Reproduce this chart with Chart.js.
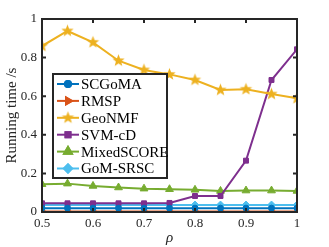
<!DOCTYPE html>
<html><head><meta charset="utf-8">
<script src="https://cdn.jsdelivr.net/npm/chart.js@4/dist/chart.umd.min.js"></script>
<style>html,body{margin:0;padding:0;background:#fff;}#wrap{width:329px;height:247px;}</style>
</head><body><div id="wrap"><canvas id="c" width="329" height="247"></canvas></div>
<script>
const rho = [0.5,0.55,0.6,0.65,0.7,0.75,0.8,0.85,0.9,0.95,1.0];
const SCGoMA = [0.020,0.020,0.020,0.020,0.020,0.020,0.020,0.020,0.020,0.020,0.020];
const RMSP = [0.003,0.003,0.003,0.003,0.003,0.003,0.003,0.003,0.003,0.003,0.003];
const GeoNMF = [0.860,0.938,0.879,0.784,0.736,0.713,0.684,0.632,0.636,0.611,0.589];
const SVMcD = [0.045,0.045,0.045,0.045,0.045,0.047,0.083,0.083,0.266,0.684,0.843];
const MixedSCORE = [0.144,0.147,0.135,0.127,0.121,0.118,0.115,0.109,0.111,0.111,0.109];
const GoMSRSC = [0.036,0.036,0.036,0.036,0.036,0.036,0.036,0.036,0.036,0.036,0.036];
const seriesNames = ['SCGoMA','RMSP','GeoNMF','SVM-cD','MixedSCORE','GoM-SRSC'];
const xTicks = [0.5,0.6,0.7,0.8,0.9,1];
const yTicks = [0,0.2,0.4,0.6,0.8,1];

const colors = ['#0072BD','#D95319','#EDB120','#7E2F8E','#77AC30','#4DBEEE'];

function makeStar(color, r){
  const s = Math.ceil(r*2+2);
  const cv = document.createElement('canvas'); cv.width = s; cv.height = s;
  const g = cv.getContext('2d');
  const cx = s/2, cy = s/2, ri = r*0.42;
  g.beginPath();
  for(let i=0;i<10;i++){
    const a = -Math.PI/2 + i*Math.PI/5;
    const rr = i%2===0 ? r : ri;
    const x = cx + rr*Math.cos(a), y = cy + rr*Math.sin(a);
    if(i===0) g.moveTo(x,y); else g.lineTo(x,y);
  }
  g.closePath(); g.fillStyle = color; g.fill();
  return cv;
}
const starImg = makeStar(colors[2], 6.5);

const styles = [
  {pointStyle:'circle', radius:3, rotation:0},
  {pointStyle:'triangle', radius:4, rotation:90},
  {pointStyle:starImg, radius:6, rotation:0},
  {pointStyle:'rect', radius:3.5, rotation:0},
  {pointStyle:'triangle', radius:4.5, rotation:0},
  {pointStyle:'rectRot', radius:4, rotation:0}
];
const values = [SCGoMA, RMSP, GeoNMF, SVMcD, MixedSCORE, GoMSRSC];

const datasets = values.map((v,i)=>({
  label: seriesNames[i],
  data: rho.map((x,j)=>({x:x,y:v[j]})),
  borderColor: colors[i],
  backgroundColor: colors[i],
  borderWidth: 2,
  pointStyle: styles[i].pointStyle,
  pointRadius: styles[i].radius,
  pointRotation: styles[i].rotation,
  pointBorderWidth: 1,
  pointBackgroundColor: colors[i],
  pointBorderColor: colors[i],
  tension: 0,
  fill: false
}));

const fmt = v => String(Number(Number(v).toFixed(1)));

const AX = '#262626';
const framePlugin = {
  id: 'frame',
  afterDatasetsDraw(chart){
    const ctx = chart.ctx, a = chart.chartArea;
    const xs = chart.scales.x, ys = chart.scales.y;
    ctx.save();
    ctx.strokeStyle = AX; ctx.lineWidth = 2;
    ctx.strokeRect(a.left, a.top, a.right-a.left, a.bottom-a.top);
    ctx.lineWidth = 2;
    const L = 4;
    ctx.beginPath();
    xTicks.forEach(t=>{
      const px = xs.getPixelForValue(t);
      ctx.moveTo(px, a.bottom); ctx.lineTo(px, a.bottom-L);
      ctx.moveTo(px, a.top); ctx.lineTo(px, a.top+L);
    });
    yTicks.forEach(t=>{
      const py = ys.getPixelForValue(t);
      ctx.moveTo(a.left, py); ctx.lineTo(a.left+L, py);
      ctx.moveTo(a.right, py); ctx.lineTo(a.right-L, py);
    });
    ctx.stroke();

    // legend
    const bx = 53, by = 74, bw = 114, bh = 104;
    ctx.fillStyle = '#fff';
    ctx.fillRect(bx, by, bw, bh);
    ctx.lineWidth = 2; ctx.strokeStyle = AX;
    ctx.strokeRect(bx, by, bw, bh);
    ctx.font = '15px "Liberation Serif", serif';
    ctx.textBaseline = 'middle'; ctx.textAlign = 'left';
    chart.data.datasets.forEach((ds,i)=>{
      const cy = 84 + i*16.9;
      ctx.strokeStyle = ds.borderColor; ctx.lineWidth = 2;
      ctx.beginPath(); ctx.moveTo(57, cy); ctx.lineTo(79, cy); ctx.stroke();
      ctx.fillStyle = ds.borderColor;
      if (typeof ds.pointStyle === 'string') {
        Chart.helpers.drawPoint(ctx, {pointStyle: ds.pointStyle, radius: ds.pointRadius, rotation: ds.pointRotation, borderWidth: 1}, 68, cy);
        ctx.fill(); ctx.stroke();
      } else {
        const img = ds.pointStyle;
        ctx.drawImage(img, 68 - img.width/2, cy - img.height/2);
      }
      ctx.fillStyle = '#000';
      ctx.fillText(ds.label, 81, cy + 1);
    });
    ctx.restore();
  }
};

new Chart(document.getElementById('c'), {
  type: 'line',
  data: { datasets },
  options: {
    responsive: false,
    animation: false,
    devicePixelRatio: 1,
    layout: { padding: { left: 0, top: 19, right: 32, bottom: 0 } },
    plugins: { legend: { display: false }, tooltip: { enabled: false } },
    scales: {
      x: {
        type: 'linear', min: 0.5, max: 1,
        afterBuildTicks: s => { s.ticks = xTicks.map(v=>({value:v})); },
        afterFit: s => { s.height = 35; },
        grid: { display: false, drawTicks: false },
        border: { display: false },
        ticks: { color: AX, padding: 4, callback: v => fmt(v), font: { family: '"Liberation Serif", serif', size: 13 } },
        title: { display: true, text: 'ρ', color: AX, padding: {top: 0, bottom: 0}, font: { family: '"Liberation Serif", serif', size: 15, style: 'italic' } }
      },
      y: {
        type: 'linear', min: 0, max: 1,
        afterBuildTicks: s => { s.ticks = yTicks.map(v=>({value:v})); },
        afterFit: s => { s.width = 42; },
        grid: { display: false, drawTicks: false },
        border: { display: false },
        ticks: { color: AX, padding: 5, callback: v => fmt(v), font: { family: '"Liberation Serif", serif', size: 13 } },
        title: { display: true, text: 'Running time /s', color: AX, padding: {top: 3, bottom: 0}, font: { family: '"Liberation Serif", serif', size: 15 } }
      }
    }
  },
  plugins: [framePlugin]
});
</script></body></html>
